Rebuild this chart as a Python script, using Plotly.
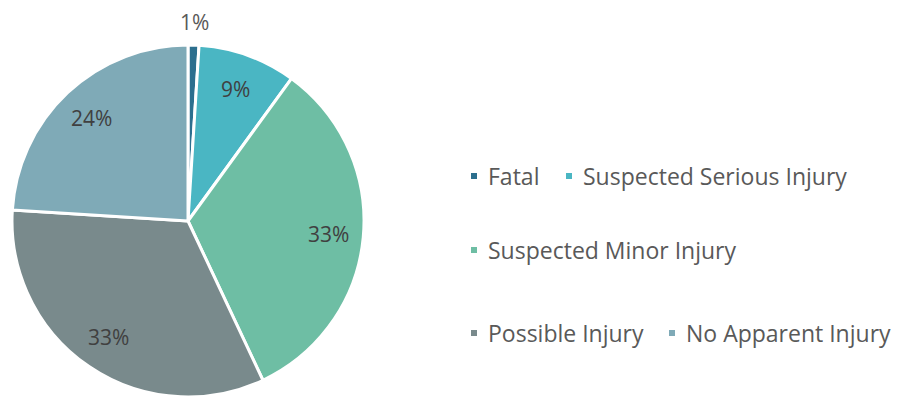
import math
import plotly.graph_objects as go

# Injury severity shares (percent)
categories = ["Fatal", "Suspected Serious Injury", "Suspected Minor Injury",
              "Possible Injury", "No Apparent Injury"]
shares = [1, 9, 33, 33, 24]
colors = ["#2c6f8e", "#4ab6c3", "#6ebea4", "#798a8c", "#7faab7"]
outside_label = [True, False, False, False, False]

W, H = 897, 399

# pie geometry in pixels
CX, CY, R = 188, 221, 176


def px(x):
    return x / W


def py(y):
    return 1 - y / H


fig = go.Figure()
fig.add_trace(go.Pie(
    labels=categories,
    values=shares,
    sort=False,
    direction="clockwise",
    rotation=0,
    marker=dict(colors=colors, line=dict(color="white", width=3)),
    textinfo="none",
    domain=dict(x=[px(CX - R), px(CX + R)], y=[py(CY + R), py(CY - R)]),
    showlegend=False,
    hoverinfo="label+percent",
))

# Percentage labels placed at each slice's mid-angle
total = sum(shares)
cum = 0.0
for v, out in zip(shares, outside_label):
    mid = (cum + v / 2) / total * 2 * math.pi
    cum += v
    rr = R + 23 if out else R * 0.8
    lx = CX + rr * math.sin(mid)
    ly = CY - rr * math.cos(mid)
    fig.add_annotation(
        x=px(lx), y=py(ly), xref="paper", yref="paper",
        text=f"{round(100 * v / total)}%", showarrow=False,
        xanchor="center", yanchor="middle",
        font=dict(family="Open Sans", size=21,
                  color="#595959" if out else "#404040"))

# Legend rows drawn as small squares plus text
legend_rows = [[0, 1], [2], [3, 4]]
row_y = [176, 250, 333]
row_marker_x = [[471, 566], [471], [471, 669]]
for r, row in enumerate(legend_rows):
    for c, idx in enumerate(row):
        x0 = row_marker_x[r][c]
        yc = row_y[r]
        fig.add_shape(type="rect", xref="paper", yref="paper",
                      x0=px(x0), x1=px(x0 + 6), y0=py(yc + 3), y1=py(yc - 3),
                      fillcolor=colors[idx], line=dict(width=0))
        fig.add_annotation(x=px(x0 + 15), y=py(yc), xref="paper", yref="paper",
                           text=categories[idx], showarrow=False,
                           xanchor="left", yanchor="middle",
                           font=dict(family="Open Sans", size=23, color="#595959"))

fig.update_layout(
    width=W, height=H,
    margin=dict(l=0, r=0, t=0, b=0),
    paper_bgcolor="white",
    plot_bgcolor="white",
)

fig.write_html("out.html")
